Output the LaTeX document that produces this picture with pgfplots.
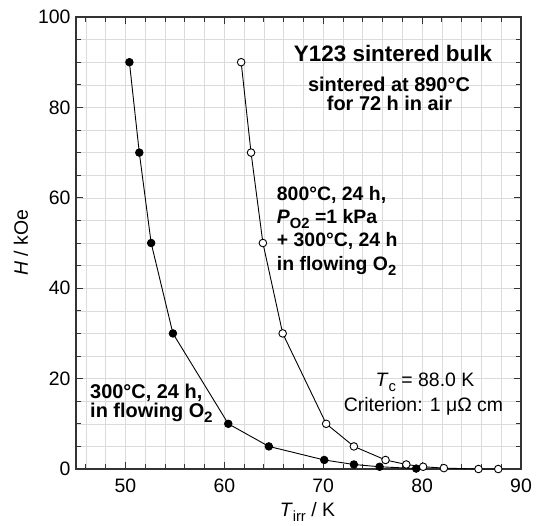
\documentclass[border=0pt]{standalone}
\usepackage{fontspec}
\setmainfont{Liberation Sans}
\usepackage{pgfplots}
\pgfplotsset{compat=1.18}
\newcommand\sub[1]{\raisebox{-0.26em}{\edef\tmpsz{\the\dimexpr0.76\fontdimen6\font\relax}\fontsize{\tmpsz}{\tmpsz}\selectfont #1}}
\begin{document}
\begin{tikzpicture}
\begin{axis}[
  scale only axis,
  width=445bp, height=452bp,
  xmin=45, xmax=90, ymin=0, ymax=100,
  xtick={50,60,70,80,90},
  ytick={0,20,40,60,80,100},
  minor xtick={46,48,52,54,56,58,62,64,66,68,72,74,76,78,82,84,86,88},
  minor ytick={5,10,15,25,30,35,45,50,55,65,70,75,85,90,95},
  grid=both,
  major grid style={line width=0.6bp, gray!28},
  minor grid style={line width=0.6bp, gray!28},
  tick align=inside,
  major tick length=7bp,
  minor tick length=5bp,
  every tick/.style={line width=0.8bp, black!80},
  axis line style={line width=1.1bp, black!80},
  /pgf/number format/assume math mode=true,
  tick label style={font=\fontsize{19.5}{22}\selectfont},
  xticklabel style={yshift=-6bp},
  yticklabel style={xshift=-2bp},
  xlabel={\textit{T}\sub{irr} / K},
  ylabel={\textit{H} / kOe},
  label style={font=\fontsize{19.5}{22}\selectfont},
  xlabel style={at={(axis description cs:0.52,-0.1055)}, anchor=base},
  ylabel style={at={(axis description cs:-0.124,0.5)}, anchor=center},
  clip=false,
]
\addplot[black, line width=0.9bp, mark=*, mark size=3.8bp,
  mark options={fill=black, line width=0.8bp}] coordinates {
  (50.4,90) (51.4,70) (52.6,50) (54.8,30) (60.4,10) (64.5,5)
  (70.1,2) (73.1,1) (75.7,0.5) (79.4,0.1)
};
\addplot[black, line width=0.9bp, mark=*, mark size=3.8bp,
  mark options={fill=white, line width=0.9bp}] coordinates {
  (61.7,90) (62.7,70) (63.9,50) (65.9,30) (70.3,10) (73.1,5)
  (76.3,2) (78.4,1) (80.1,0.5) (82.2,0.2) (85.7,0) (87.7,0)
};
\node[anchor=base, font=\fontsize{22.5}{26}\selectfont\bfseries] at (axis cs:77.06,90.1) {Y123 sintered bulk};
\node[anchor=base, font=\fontsize{20}{24}\selectfont\bfseries] at (axis cs:76.65,83.5) {sintered at 890°C};
\node[anchor=base, font=\fontsize{20}{24}\selectfont\bfseries] at (axis cs:76.7,79.3) {for 72 h in air};
\node[anchor=base west, inner sep=0pt, font=\fontsize{19.5}{23}\selectfont\bfseries] at (axis cs:65.3,59.4) {800°C, 24 h,};
\node[anchor=base west, inner sep=0pt, font=\fontsize{19.5}{23}\selectfont\bfseries] at (axis cs:65.3,54.4) {\textit{P}\sub{O2} =1 kPa};
\node[anchor=base west, inner sep=0pt, font=\fontsize{19.5}{23}\selectfont\bfseries] at (axis cs:65.3,49.2) {+ 300°C, 24 h};
\node[anchor=base west, inner sep=0pt, font=\fontsize{19.5}{23}\selectfont\bfseries] at (axis cs:65.3,44.0) {in flowing O\sub{2}};
\node[anchor=base west, inner sep=0pt, font=\fontsize{20}{24}\selectfont\bfseries] at (axis cs:46.42,15.7) {300°C, 24 h,};
\node[anchor=base west, inner sep=0pt, font=\fontsize{20}{24}\selectfont\bfseries] at (axis cs:46.42,11.5) {in flowing O\sub{2}};
\node[anchor=base, font=\fontsize{19.5}{23}\selectfont] at (axis cs:80.29,18.2) {\textit{T}\sub{c} = 88.0 K};
\node[anchor=base, font=\fontsize{19.5}{23}\selectfont] at (axis cs:80.14,12.7) {Criterion: 1 μΩ cm};
\end{axis}
\path (current axis.south west) ++(-76bp,-54bp) coordinate (bbsw);
\path (current axis.north east) ++(18bp,17bp) coordinate (bbne);
\path (bbsw) rectangle (bbne);
\end{tikzpicture}
\end{document}
